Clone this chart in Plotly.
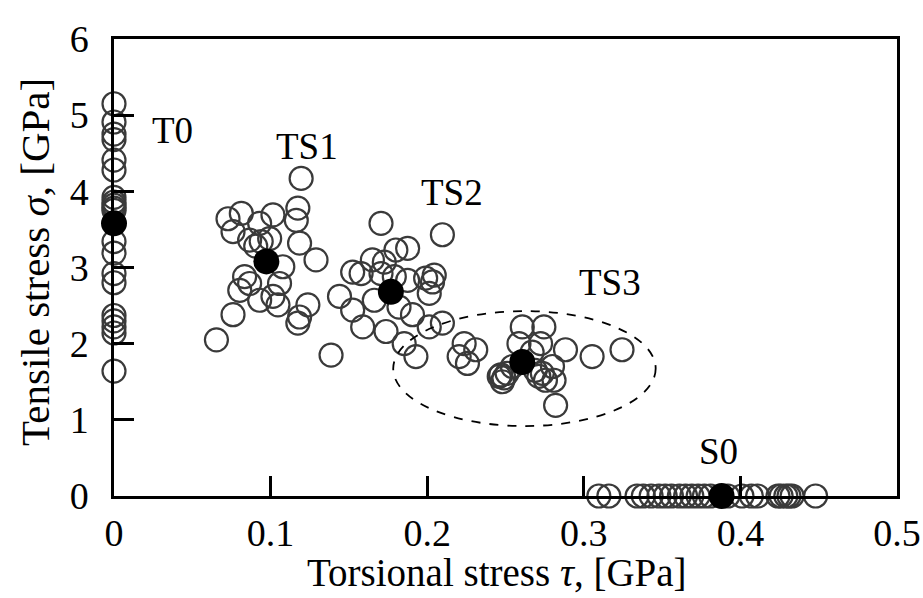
import plotly.graph_objects as go

# --- measured stress states [GPa] ---
t0_tau = [0.0] * 20
t0_sigma = [5.15, 4.91, 4.75, 4.68, 4.41, 4.28, 3.92, 3.86, 3.82, 3.78, 3.75,
            3.34, 3.19, 2.92, 2.80, 2.37, 2.30, 2.22, 2.14, 1.64]

ts1_tau = [0.1195, 0.0728, 0.0813, 0.0760, 0.1015, 0.0930, 0.1174, 0.1164,
           0.0866, 0.0940, 0.0994, 0.0905, 0.1185, 0.1290, 0.1078, 0.0834,
           0.0866, 0.0803, 0.1057, 0.0930, 0.1015, 0.1047, 0.0760, 0.1238,
           0.1185, 0.1174, 0.0654]
ts1_sigma = [4.17, 3.64, 3.71, 3.47, 3.69, 3.58, 3.78, 3.62,
             3.36, 3.34, 3.38, 3.28, 3.32, 3.10, 3.01, 2.88,
             2.79, 2.70, 2.79, 2.57, 2.62, 2.51, 2.38, 2.51,
             2.35, 2.27, 2.05]

ts2_tau = [0.1705, 0.2097, 0.1800, 0.1875, 0.1650, 0.1726, 0.1524, 0.1578,
           0.1705, 0.1790, 0.1875, 0.1990, 0.2045, 0.2034, 0.2013, 0.1440,
           0.1662, 0.1820, 0.1524, 0.1588, 0.1737, 0.1906, 0.2013, 0.2097,
           0.1853, 0.1928, 0.1386]
ts2_sigma = [3.58, 3.43, 3.23, 3.25, 3.10, 3.07, 2.94, 2.92,
             2.92, 2.88, 2.83, 2.86, 2.90, 2.81, 2.66, 2.62,
             2.57, 2.48, 2.44, 2.22, 2.16, 2.38, 2.22, 2.27,
             2.00, 1.83, 1.85]

ts3_tau = [0.2236, 0.2310, 0.2204, 0.2257, 0.2607, 0.2745, 0.2586, 0.2724,
           0.2883, 0.3053, 0.3244, 0.2470, 0.2490, 0.2480, 0.2460, 0.2510,
           0.2690, 0.2735, 0.2800, 0.2755, 0.2810, 0.2713, 0.2820, 0.2544,
           0.2670]
ts3_sigma = [2.00, 1.92, 1.83, 1.74, 2.22, 2.22, 2.00, 2.00,
             1.92, 1.83, 1.92, 1.59, 1.55, 1.50, 1.57, 1.61,
             1.65, 1.61, 1.70, 1.52, 1.52, 1.57, 1.19, 1.70,
             1.89]

s0_tau = [0.3096, 0.3160, 0.3340, 0.3380, 0.3430, 0.3480, 0.3520, 0.3560,
          0.3610, 0.3650, 0.3690, 0.3730, 0.3770, 0.3810, 0.3920, 0.4010,
          0.4070, 0.4110, 0.4240, 0.4260, 0.4290, 0.4310, 0.4330, 0.4480]
s0_sigma = [0.0] * len(s0_tau)

# mean stress of each loading group
mean_tau = [0.0, 0.0973, 0.1768, 0.2607, 0.388]
mean_sigma = [3.58, 3.08, 2.68, 1.76, 0.0]

# group labels
label_text = ["T0", "TS1", "TS2", "TS3", "S0"]
label_tau = [0.0376, 0.1232, 0.2159, 0.3169, 0.386]
label_sigma = [4.80, 4.59, 3.98, 2.80, 0.59]

# TS3 region outline (center, half-widths)
ell_tau, ell_sigma = 0.2621, 1.673
ell_a, ell_b = 0.0838, 0.755

FONT = "Liberation Serif, Times New Roman, serif"

all_tau = t0_tau + ts1_tau + ts2_tau + ts3_tau + s0_tau
all_sigma = t0_sigma + ts1_sigma + ts2_sigma + ts3_sigma + s0_sigma

fig = go.Figure()
fig.add_trace(go.Scatter(
    x=all_tau, y=all_sigma, mode="markers", cliponaxis=False,
    marker=dict(symbol="circle-open", size=23, color="#3a3a3a",
                line=dict(width=2.2, color="#3a3a3a")),
    showlegend=False,
))
fig.add_trace(go.Scatter(
    x=mean_tau, y=mean_sigma, mode="markers", cliponaxis=False,
    marker=dict(symbol="circle", size=26, color="black"),
    showlegend=False,
))

fig.add_shape(type="circle", xref="x", yref="y",
              x0=ell_tau - ell_a, x1=ell_tau + ell_a,
              y0=ell_sigma - ell_b, y1=ell_sigma + ell_b,
              line=dict(color="black", width=1.8, dash="dash"))

for t, x, y in zip(label_text, label_tau, label_sigma):
    fig.add_annotation(x=x, y=y, text=t, showarrow=False,
                       font=dict(family=FONT, size=37, color="black"))

# axis titles
fig.add_annotation(xref="paper", yref="paper", x=0.489, y=-0.168,
                   xanchor="center", yanchor="middle", showarrow=False,
                   text="Torsional stress <i>τ</i>, [GPa]",
                   font=dict(family=FONT, size=39, color="black"))
fig.add_annotation(xref="paper", yref="paper", x=-0.101, y=0.512,
                   xanchor="center", yanchor="middle", showarrow=False,
                   textangle=-90,
                   text="Tensile stress <i>σ</i>, [GPa]",
                   font=dict(family=FONT, size=41, color="black"))

axis_common = dict(
    showline=True, linecolor="black", linewidth=2.5, mirror=True,
    ticks="inside", ticklen=20, tickwidth=2.5, tickcolor="black",
    showgrid=False, zeroline=False,
    tickfont=dict(family=FONT, size=38, color="black"),
)

fig.update_xaxes(range=[0, 0.5], dtick=0.1, ticklabelstandoff=2, **axis_common)
fig.update_yaxes(range=[0, 6], dtick=1, ticklabelstandoff=15, **axis_common)

fig.update_layout(
    width=923, height=598,
    margin=dict(l=114, r=26, t=39, b=102, autoexpand=False),
    plot_bgcolor="white", paper_bgcolor="white",
)

fig.write_html("out.html")
